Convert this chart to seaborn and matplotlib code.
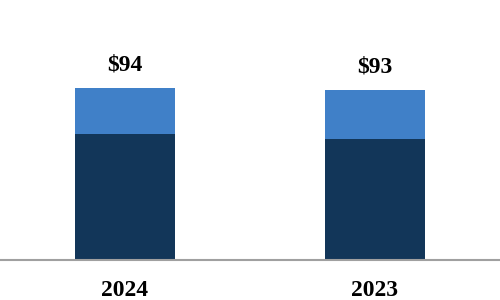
import matplotlib
matplotlib.use("Agg")
import matplotlib.pyplot as plt
import seaborn as sns
import pandas as pd

years = ["2024", "2023"]
dark_values = [69, 66]
light_values = [25, 27]
total_labels = ["$94", "$93"]

totals = [d + l for d, l in zip(dark_values, light_values)]
df = pd.DataFrame({"year": years, "dark": dark_values, "total": totals})

sns.set_theme(style="white")
plt.rcParams["font.family"] = ["Liberation Serif", "DejaVu Serif"]

fig = plt.figure(figsize=(5, 3), dpi=100)
ax = fig.add_axes([0, 40 / 300, 1, 260 / 300])

sns.barplot(data=df, x="year", y="total", color="#4080C8", width=0.4,
            saturation=1, linewidth=0, ax=ax, order=years)
sns.barplot(data=df, x="year", y="dark", color="#123659", width=0.4,
            saturation=1, linewidth=0, ax=ax, order=years)

ax.set_xlim(-0.5, 1.5)
ax.set_ylim(0, 94 * 260 / 172)

for i, (t, lab) in enumerate(zip(totals, total_labels)):
    ax.annotate(lab, (i, t), xytext=(0, 12.5), textcoords="offset points",
                ha="center", va="baseline", fontsize=17, fontweight="bold",
                color="black")

ax.set_xlabel("")
ax.set_ylabel("")
ax.set_yticks([])
ax.tick_params(axis="x", length=0, pad=14.5)
for lbl in ax.get_xticklabels():
    lbl.set_fontsize(17)
    lbl.set_fontweight("bold")
    lbl.set_color("black")

for s in ["top", "left", "right"]:
    ax.spines[s].set_visible(False)
ax.spines["bottom"].set_color("#A0A0A0")
ax.spines["bottom"].set_linewidth(1.5)

fig.savefig("out.png", dpi=100)
